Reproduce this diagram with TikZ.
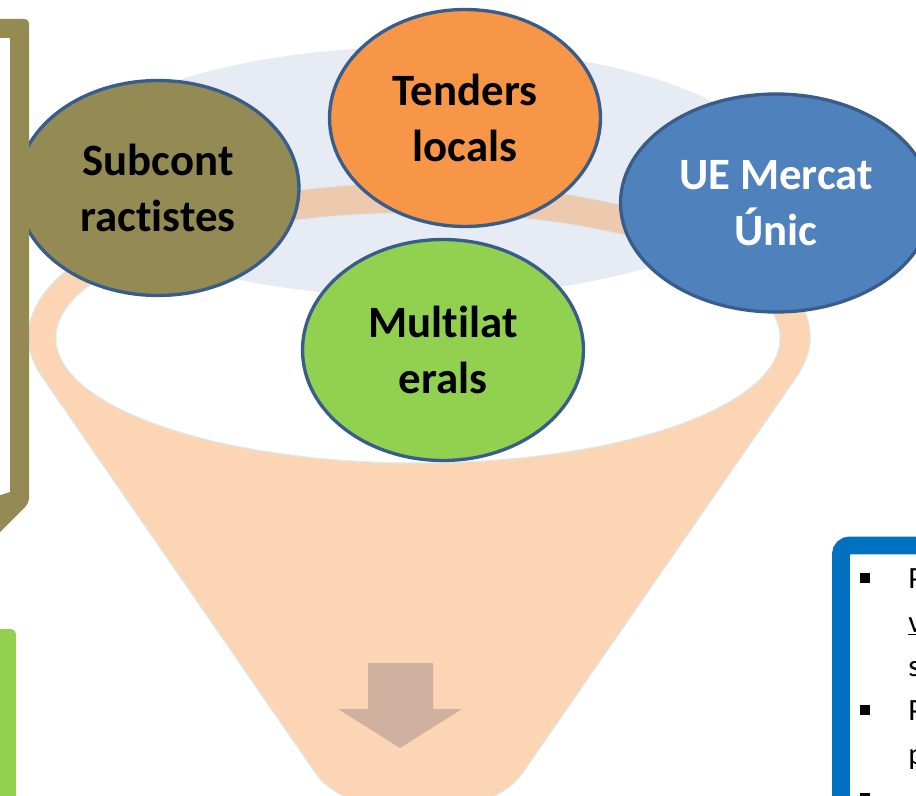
\documentclass[tikz,border=0pt]{standalone}
\usepackage{fontspec}
\setmainfont[Ligatures=NoCommon]{Carlito}
\usepackage{xcolor}
\usepackage{tikz}
\usetikzlibrary{positioning,shapes.geometric}

\definecolor{olivebox}{HTML}{948A54}
\definecolor{tenderorange}{HTML}{F79646}
\definecolor{mercatblue}{HTML}{4F81BD}
\definecolor{multigreen}{HTML}{92D050}
\definecolor{rimblue}{HTML}{385D8A}
\definecolor{mistblue}{HTML}{E7ECF4}
\definecolor{funnelrim}{HTML}{D6EDF3}
\definecolor{arrowtan}{HTML}{D0B09E}
\definecolor{notesblue}{HTML}{0070C0}

\begin{document}
\begin{tikzpicture}[
        x = 0.02cm, y = 0.02cm,
        bubble/.style = {ellipse, draw=rimblue, line width=1.9pt, inner sep=0pt, align=center,
            font=\bfseries\fontsize{25.5}{31.5}\selectfont},
        notetext/.style = {anchor=base west, inner sep=0pt, font=\fontsize{17.6}{25}\selectfont},
        sqbullet/.style = {fill=black, minimum size=5.7pt, inner sep=0pt}
    ]
    \useasboundingbox (0,0) rectangle (916,795);
    \clip (0,0) rectangle (916,795);
    % mouth of the funnel
    \fill [mistblue] (419,623) ellipse [x radius=355, y radius=125];
    \path [fill=tenderorange, fill opacity=0.4, even odd rule, draw=funnelrim, line width=0.6pt]
        (42,418) arc [start angle=195.2, end angle=-15.2, x radius=391, y radius=154]
        [rounded corners=20pt] -- (502,-8) -- (336,-8) [sharp corners] -- cycle
        (418,457) ellipse [x radius=362, y radius=125];
    \fill [arrowtan] (368,132) -- (433,132) -- (433,86) -- (462,86) -- (400,47)
        -- (338,86) -- (368,86) -- cycle;
    % the four sources
    \node [bubble, fill=olivebox, minimum width=5.64cm, minimum height=4.3cm] (subcont) at (158,607) {Subcont\\ractistes};
    \node [bubble, fill=tenderorange, minimum width=5.42cm, minimum height=4.34cm] (tenders) at (465,677) {Tenders\\locals};
    \node [bubble, fill=mercatblue, text=white, minimum width=6.22cm, minimum height=4.36cm] (ue) at (776,592) {UE Mercat\\Únic};
    \node [bubble, fill=multigreen, minimum width=5.62cm, minimum height=4.42cm] (multilat) at (443,445) {Multilat\\erals};
    % side panels
    \fill [olivebox] (-5,776) [rounded corners=2.5pt] -- (29,776) -- (29,292) [sharp corners] -- (-5,258)
        -- (-5,298) -- (10,303) -- (10,757) -- (-5,757) -- cycle;
    \fill [multigreen, rounded corners=3pt] (-10,-20) rectangle (16,166);
    \draw [notesblue, line width=10.2pt, fill=white, rounded corners=5pt] (841,249.5) rectangle (1000,-50);
    \node [notetext] (l1) at (908,207) {P};
    \node [notetext] (l2) at (908,163) {\underline{v}};
    \node [notetext] (l3) at (908,119) {s};
    \node [notetext] (l4) at (908,75) {P};
    \node [notetext] (l5) at (908,31) {p};
    \node [sqbullet, left = 0.75cm of l1] (b1) {};
    \node [sqbullet, left = 0.75cm of l4] (b2) {};
    \node [sqbullet] (b3) at (865,-3) {};
\end{tikzpicture}
\end{document}
